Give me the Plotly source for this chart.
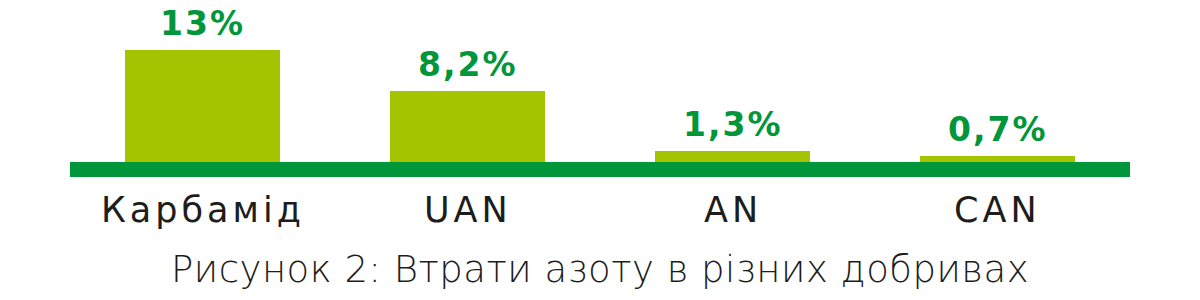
import plotly.graph_objects as go

categories = ["Карбамід", "UAN", "AN", "CAN"]
values = [13, 8.2, 1.3, 0.7]
value_labels = ["13%", "8,2%", "1,3%", "0,7%"]
caption = "Рисунок 2: Втрати азоту в різних добривах"

BAR = "#A5C400"
BASE = "#009639"
DARK = "#1D1D1B"

fig = go.Figure()
fig.add_trace(go.Bar(
    x=list(range(len(categories))), y=values,
    marker=dict(color=BAR, line=dict(width=0)),
    width=0.585, hoverinfo="skip",
))

# thick baseline
fig.add_shape(type="rect", xref="paper", yref="y", x0=0, x1=1, y0=-1.75, y1=0,
              fillcolor=BASE, line=dict(width=0), layer="above")

for i, (v, t) in enumerate(zip(values, value_labels)):
    fig.add_annotation(x=i, y=v, xref="x", yref="y",
                       text='<span style="letter-spacing:2px">' + t + '</span>',
                       showarrow=False, yanchor="bottom", yshift=5,
                       font=dict(family="DejaVu Sans", size=33, color=BASE, weight="bold"))

for i, c in enumerate(categories):
    fig.add_annotation(x=i, y=0, xref="x", yref="paper",
                       text='<span style="letter-spacing:4px">' + c + '</span>',
                       showarrow=False, yanchor="top", yshift=-11,
                       font=dict(family="DejaVu Sans", size=35, color=DARK))

fig.add_annotation(x=0.5, y=0, xref="paper", yref="paper",
                   text='<span style="letter-spacing:0.5px">' + caption + '</span>',
                   showarrow=False, yanchor="top", yshift=-69,
                   font=dict(family="DejaVu Sans", size=37, color=DARK, weight=200))

fig.update_layout(
    width=1200, height=300,
    margin=dict(l=70, r=70, t=0, b=123),
    paper_bgcolor="white", plot_bgcolor="white",
    showlegend=False,
    xaxis=dict(range=[-0.5, 3.5], visible=False, fixedrange=True),
    yaxis=dict(range=[-1.75, 18.8], visible=False, fixedrange=True),
    bargap=0,
)

fig.write_html("out.html", config={"displayModeBar": False})
